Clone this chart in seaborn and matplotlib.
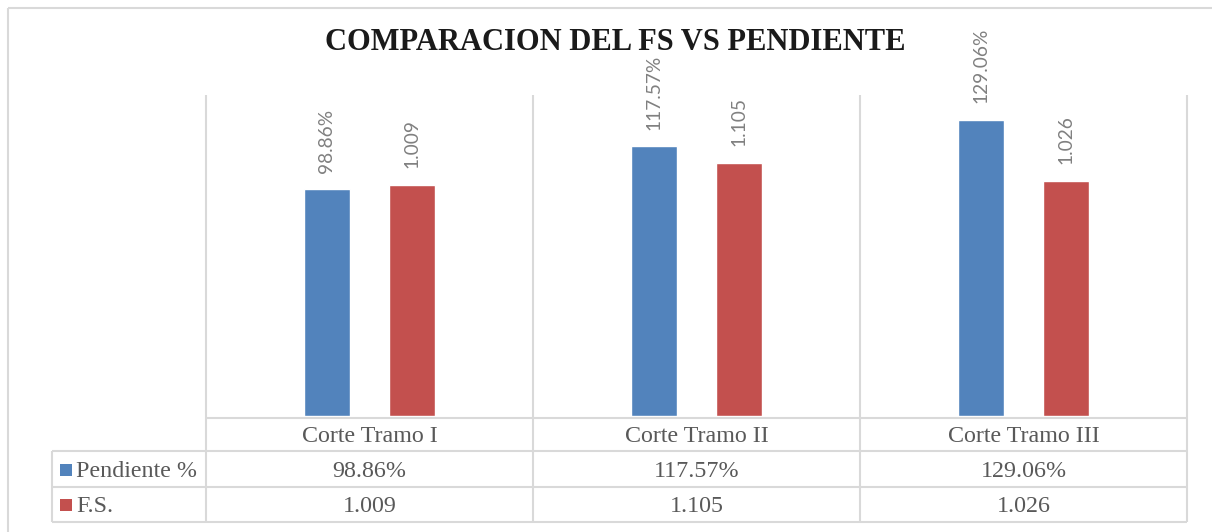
import matplotlib
matplotlib.use("Agg")
import matplotlib.pyplot as plt
import matplotlib.transforms as mtransforms
from matplotlib.patches import Rectangle
import seaborn as sns
import pandas as pd

# Chart data
categories = ["Corte Tramo I", "Corte Tramo II", "Corte Tramo III"]
series_names = ["Pendiente %", "F.S."]
pendiente = [0.9886, 1.1757, 1.2906]
factor_seguridad = [1.009, 1.105, 1.026]
title = "COMPARACION DEL FS VS PENDIENTE"

colors = ["#5283BC", "#C3504E"]
grid_col = "#D9D9D9"
text_col = "#595959"
label_col = "#808080"


def fmt_pendiente(v):
    return f"{v * 100:.2f}%"


def fmt_fs(v):
    return f"{v:.3f}"


formatters = [fmt_pendiente, fmt_fs]
values = [pendiente, factor_seguridad]

df = pd.DataFrame({
    "categoria": categories * 2,
    "serie": [series_names[0]] * 3 + [series_names[1]] * 3,
    "valor": pendiente + factor_seguridad,
})

sns.set_theme(style="white")
W, H = 1212, 532
fig = plt.figure(figsize=(W / 100, H / 100), dpi=100)

# Plot area (pixel geometry of the chart body)
x0, x1, y_top, y_base = 206, 1187, 95, 416
ax = fig.add_axes([x0 / W, (H - y_base) / H, (x1 - x0) / W, (y_base - y_top) / H])

sns.barplot(data=df, x="categoria", y="valor", hue="serie", order=categories,
            hue_order=series_names, palette=colors, width=0.52, gap=0.47,
            saturation=1, legend=False, ax=ax)
ax.set_xlim(-0.5, len(categories) - 0.5)
ax.set_ylim(0, 1.4)
ax.set_axis_off()

for cont, fmt in zip(ax.containers, formatters):
    ax.bar_label(cont, labels=[fmt(v) for v in cont.datavalues], rotation=90,
                 padding=12, color=label_col, fontsize=13.8, family="Lato")

# Overlay in pixel coordinates for frame, gridlines and data table
over = fig.add_axes([0, 0, 1, 1], zorder=-1)
over.set_xlim(0, W)
over.set_ylim(H, 0)
over.set_axis_off()
over.patch.set_alpha(0)

blend = mtransforms.blended_transform_factory(ax.transData, over.transData)
lw = 1.5

# Outer frame
over.plot([7.5, W], [7.5, 7.5], color=grid_col, lw=lw, solid_capstyle="butt")
over.plot([7.5, 7.5], [7.5, H], color=grid_col, lw=lw, solid_capstyle="butt")

# Vertical category boundaries through plot area and table
for b in [i - 0.5 for i in range(len(categories) + 1)]:
    over.plot([b, b], [y_top, 522], color=grid_col, lw=lw, transform=blend,
              solid_capstyle="butt")

# Horizontal table lines
over.plot([x0, x1], [418, 418], color=grid_col, lw=lw, solid_capstyle="butt")
for yy in [451, 487, 522]:
    over.plot([52, x1], [yy, yy], color=grid_col, lw=lw, solid_capstyle="butt")
over.plot([52, 52], [451, 522], color=grid_col, lw=lw, solid_capstyle="butt")

table_font = dict(family="Liberation Serif", fontsize=17.3, color=text_col)

# Header row with category names
for i, cat in enumerate(categories):
    over.text(i, 442, cat, ha="center", va="baseline", transform=blend, **table_font)

# Data rows with legend keys
row_base = [477, 512]
for r, (name, vals, fmt, col) in enumerate(zip(series_names, values, formatters, colors)):
    yb = row_base[r]
    over.add_patch(Rectangle((60, yb - 13), 12, 12, facecolor=col, edgecolor="none"))
    over.text(76, yb, name, ha="left", va="baseline", **table_font)
    for i, v in enumerate(vals):
        over.text(i, yb, fmt(v), ha="center", va="baseline", transform=blend, **table_font)

# Title
over.text(615, 50, title, ha="center", va="baseline", family="Liberation Serif",
          fontweight="bold", fontsize=22, color="#1a1a1a")

fig.savefig("out.png", dpi=100, facecolor="white")
